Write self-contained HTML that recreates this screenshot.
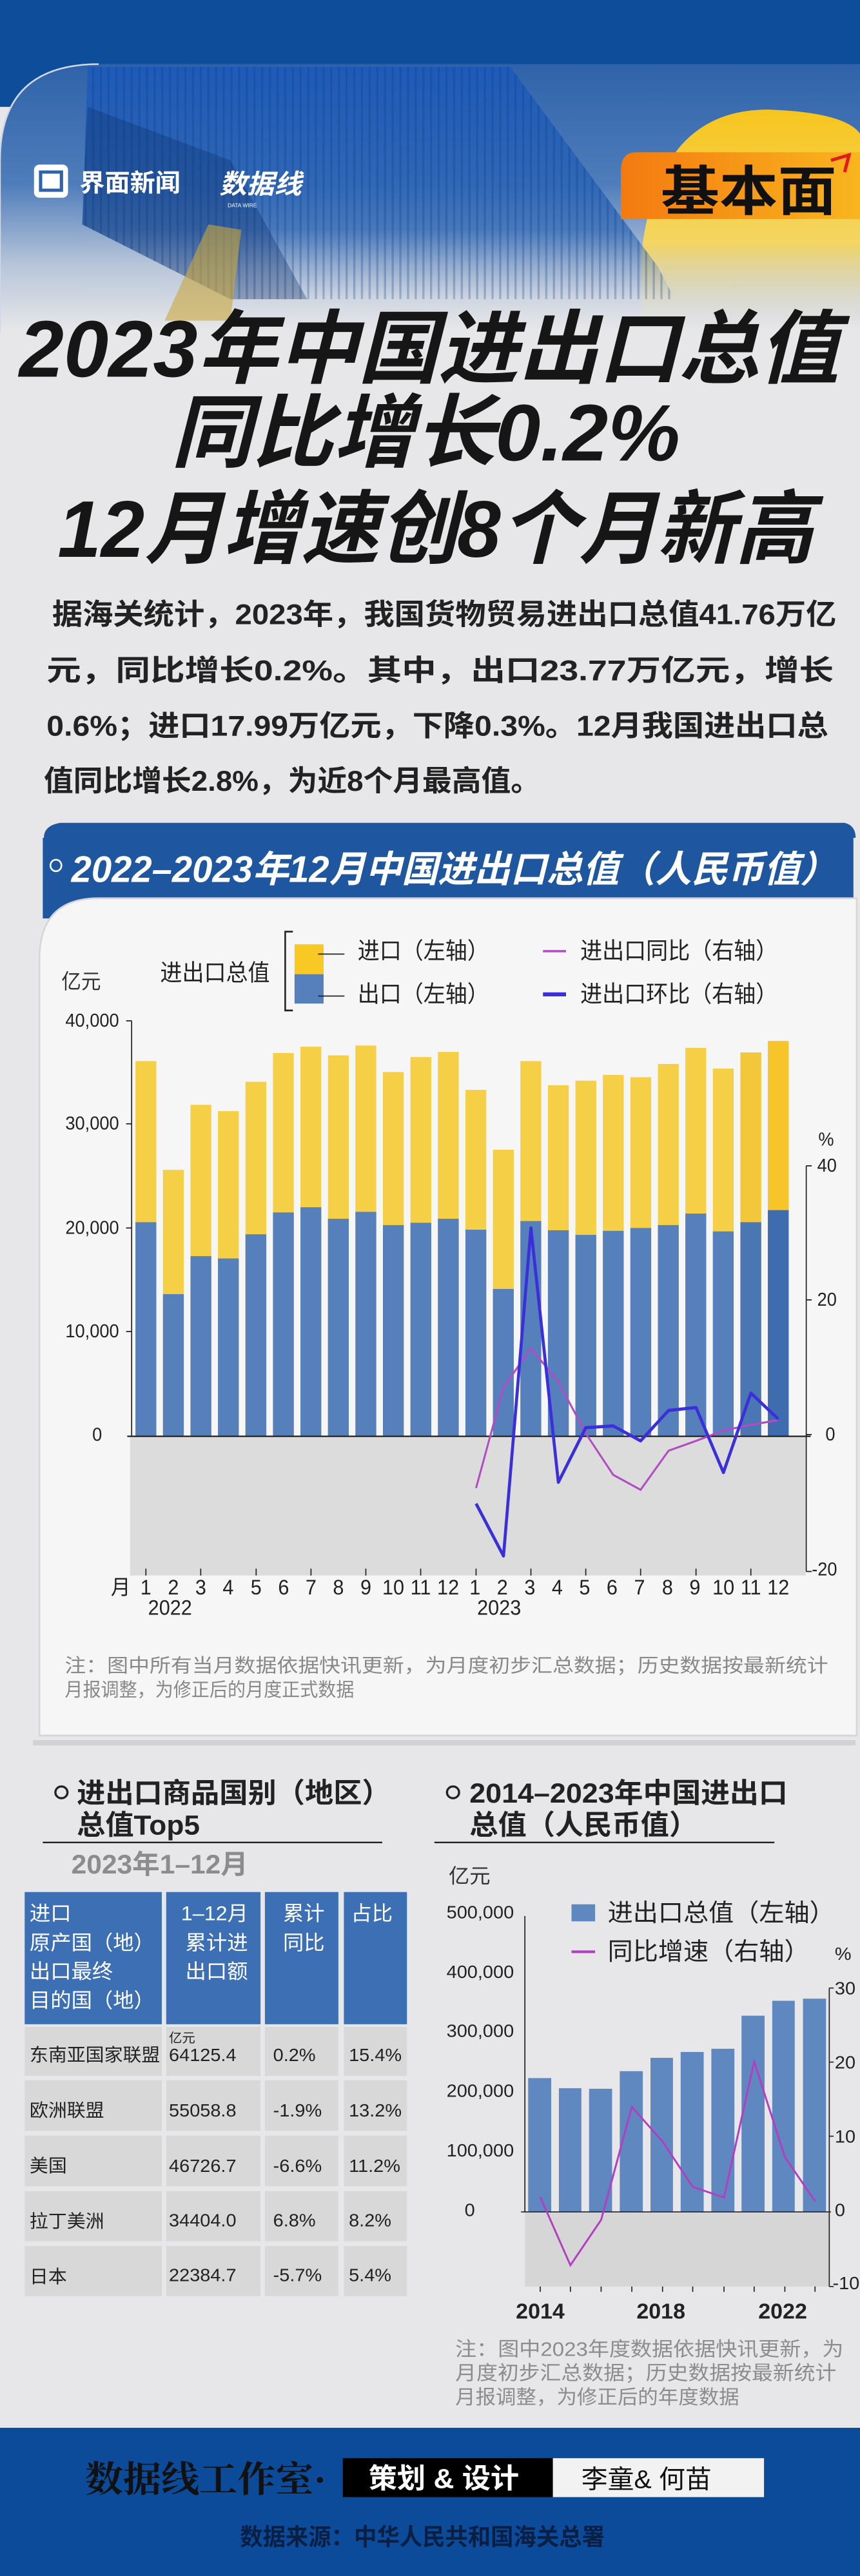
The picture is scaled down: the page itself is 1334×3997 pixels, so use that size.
<!DOCTYPE html>
<html><head><meta charset="utf-8"><style>
html,body{margin:0;padding:0;background:#e7e7e9;width:1334px;overflow:hidden}
svg{display:block}
text{font-family:"Liberation Sans","Noto Sans CJK SC",sans-serif}
</style></head><body>
<!-- Section 1: 0-1300 -->
<svg width="1334" height="1300" viewBox="0 0 1568 1568" preserveAspectRatio="none">
<defs>
<linearGradient id="hero" x1="0" y1="0" x2="0" y2="1">
<stop offset="0" stop-color="#2f63a9"/><stop offset="0.45" stop-color="#4f7dbb"/><stop offset="0.75" stop-color="#b7c5d9"/><stop offset="1" stop-color="#e7e7e9"/></linearGradient>
<linearGradient id="sun" x1="0" y1="0" x2="0" y2="1"><stop offset="0" stop-color="#f6c51e"/><stop offset="0.6" stop-color="#f4d560"/><stop offset="1" stop-color="#e7e4d8" stop-opacity="0"/></linearGradient>
<linearGradient id="org" x1="0" y1="0" x2="1" y2="0"><stop offset="0" stop-color="#f47a10"/><stop offset="1" stop-color="#f9b51e"/></linearGradient>
<linearGradient id="cont" x1="0" y1="0" x2="0" y2="1"><stop offset="0" stop-color="#1e5bb8"/><stop offset="0.7" stop-color="#2c65b4" stop-opacity="0.7"/><stop offset="1" stop-color="#6d8fc0" stop-opacity="0"/></linearGradient>
<pattern id="rib" width="14" height="14" patternUnits="userSpaceOnUse"><rect width="14" height="14" fill="none"/><rect width="4" height="14" fill="#0d3a82" opacity="0.45"/></pattern>
</defs>
<rect x="0" y="0" width="1568" height="1568" fill="#e7e7e9"/>
<rect x="0" y="0" width="1568" height="200" fill="#0e4d9a"/>
<path d="M0 300 Q0 120 180 120 L1568 120 L1568 620 L0 620 Z" fill="url(#hero)"/>
<path d="M0 620 L0 300 Q0 120 180 120" fill="none" stroke="#cfd8e6" stroke-width="3"/>
<path d="M1170 560 L1170 470 Q1200 205 1400 205 Q1540 210 1568 250 L1568 620 L1170 620 Z" fill="url(#sun)"/>
<!-- container -->
<path d="M160 125 L930 125 L1200 500 L1230 560 L420 560 L150 420 Z" fill="url(#cont)"/>
<path d="M160 125 L930 125 L1200 500 L1230 560 L420 560 L150 420 Z" fill="url(#rib)" opacity="0.6"/>
<path d="M160 200 L420 300 L560 560 L420 560 L150 420 Z" fill="#0c2f6a" opacity="0.35"/>
<path d="M300 600 L380 420 L440 430 L420 600 Z" fill="#c9a63c" opacity="0.6"/>
<!-- logos -->
<rect x="62" y="308" width="62" height="62" rx="10" fill="#ffffff"/>
<rect x="74" y="322" width="38" height="34" fill="none" stroke="#2f63a9" stroke-width="6"/>
<text x="145" y="358" font-size="46" font-weight="bold" fill="#ffffff">界面新闻</text>
<text x="400" y="362" font-size="50" font-weight="bold" font-style="italic" fill="#ffffff">数据线</text>
<text x="415" y="388" font-size="10" fill="#ffffff">DATA WIRE</text>
<!-- badge -->
<path d="M1160 285 L1568 285 L1568 410 L1132 410 L1132 320 Q1132 285 1160 285 Z" fill="url(#org)"/>
<text x="1205" y="393" font-size="100" font-weight="bold" fill="#111" textLength="320" lengthAdjust="spacingAndGlyphs">基本面</text>
<path d="M1515 300 L1548 290 L1540 322" fill="none" stroke="#e21b1b" stroke-width="6"/>
<!-- title -->
<g font-weight="bold" font-style="italic" fill="#161616" font-size="150">
<text x="35" y="705" textLength="1495" lengthAdjust="spacingAndGlyphs">2023年中国进出口总值</text>
<text x="312" y="862" textLength="928" lengthAdjust="spacingAndGlyphs">同比增长0.2%</text>
<text x="105" y="1042" textLength="1378" lengthAdjust="spacingAndGlyphs">12月增速创8个月新高</text>
</g>
<g font-size="54" fill="#222" font-weight="bold">
<text x="95" y="1168" textLength="1430" lengthAdjust="spacingAndGlyphs">据海关统计，2023年，我国货物贸易进出口总值41.76万亿</text>
<text x="85" y="1273" textLength="1435" lengthAdjust="spacingAndGlyphs">元，同比增长0.2%。其中，出口23.77万亿元，增长</text>
<text x="85" y="1377" textLength="1425" lengthAdjust="spacingAndGlyphs">0.6%；进口17.99万亿元，下降0.3%。12月我国进出口总</text>
<text x="80" y="1480" textLength="905" lengthAdjust="spacingAndGlyphs">值同比增长2.8%，为近8个月最高值。</text>
</g>
<path d="M80 1568 Q80 1545 110 1540 L1540 1540 Q1560 1545 1560 1568 Z" fill="#1f56a0"/>
</svg>
<!-- Section 2: 1300-2700 -->
<svg width="1334" height="1400" viewBox="0 0 1568 1568" preserveAspectRatio="none">
<rect x="0" y="0" width="1568" height="1568" fill="#e7e7e9"/>
<path d="M78 0 L1556 0 L1556 140 L78 140 Z" fill="#1f56a0"/>
<path d="M72 1560 L72 210 Q72 105 180 105 L1562 105 L1562 1560 Z" fill="#f6f6f7" stroke="#d6d6d8" stroke-width="3"/>
<circle cx="102" cy="48" r="10" fill="none" stroke="#fff" stroke-width="3"/>
<text x="130" y="77" font-size="64" font-weight="bold" font-style="italic" fill="#fff" textLength="1395" lengthAdjust="spacingAndGlyphs">2022–2023年12月中国进出口总值（人民币值）</text>
<!-- legend -->
<text x="112" y="262" font-size="36" fill="#333">亿元</text>
<text x="292" y="248" font-size="40" fill="#222">进出口总值</text>
<path d="M534 163 L520 163 L520 300 L534 300" fill="none" stroke="#222" stroke-width="3"/>
<rect x="537" y="185" width="53" height="52" fill="#f8c824"/>
<rect x="537" y="237" width="53" height="51" fill="#5580bb"/>
<line x1="580" y1="202" x2="628" y2="202" stroke="#222" stroke-width="2"/>
<line x1="580" y1="275" x2="628" y2="275" stroke="#222" stroke-width="2"/>
<text x="652" y="210" font-size="40" fill="#222">进口（左轴）</text>
<text x="652" y="285" font-size="40" fill="#222">出口（左轴）</text>
<line x1="990" y1="197" x2="1032" y2="197" stroke="#b24cc4" stroke-width="4"/>
<line x1="990" y1="272" x2="1032" y2="272" stroke="#3a2fd8" stroke-width="7"/>
<text x="1058" y="210" font-size="40" fill="#222">进出口同比（右轴）</text>
<text x="1058" y="285" font-size="40" fill="#222">进出口环比（右轴）</text>
<rect x="237" y="1040" width="1232" height="242" fill="#dcdcdc"/>
<g font-size="32" fill="#222" text-anchor="end">
<text x="217" y="328">40,000</text><text x="217" y="507">30,000</text><text x="217" y="688">20,000</text><text x="217" y="868">10,000</text><text x="186" y="1048">0</text>
</g>
<g stroke="#222" stroke-width="2">
<line x1="240" y1="318" x2="240" y2="1040"/>
<line x1="230" y1="318" x2="240" y2="318"/><line x1="230" y1="497" x2="240" y2="497"/><line x1="230" y1="678" x2="240" y2="678"/><line x1="230" y1="858" x2="240" y2="858"/>
</g>
<g fill="#f5cf45">
<rect x="247" y="388" width="38" height="652"/><rect x="297.1" y="577" width="38" height="463"/><rect x="347.3" y="464" width="38" height="576"/><rect x="397.4" y="475" width="38" height="565"/><rect x="447.5" y="424" width="38" height="616"/><rect x="497.7" y="374" width="38" height="666"/><rect x="547.8" y="363" width="38" height="677"/><rect x="597.9" y="378" width="38" height="662"/><rect x="648" y="361" width="38" height="679"/><rect x="698.2" y="407" width="38" height="633"/><rect x="748.3" y="381" width="38" height="659"/><rect x="798.4" y="372" width="38" height="668"/><rect x="848.6" y="438" width="38" height="602"/><rect x="898.7" y="542" width="38" height="498"/><rect x="948.8" y="388" width="38" height="652"/><rect x="999" y="430" width="38" height="610"/><rect x="1049.1" y="422" width="38" height="618"/><rect x="1099.2" y="412" width="38" height="628"/><rect x="1149.3" y="416" width="38" height="624"/><rect x="1199.5" y="393" width="38" height="647"/><rect x="1249.6" y="365" width="38" height="675"/><rect x="1299.7" y="401" width="38" height="639"/><rect x="1349.9" y="373" width="38" height="667" fill="#f2c73a"/><rect x="1400" y="353" width="38" height="687" fill="#f7c52a"/>
</g>
<g fill="#5580bb">
<rect x="247" y="668" width="38" height="372"/><rect x="297.1" y="793" width="38" height="247"/><rect x="347.3" y="727" width="38" height="313"/><rect x="397.4" y="731" width="38" height="309"/><rect x="447.5" y="689" width="38" height="351"/><rect x="497.7" y="651" width="38" height="389"/><rect x="547.8" y="642" width="38" height="398"/><rect x="597.9" y="662" width="38" height="378"/><rect x="648" y="650" width="38" height="390"/><rect x="698.2" y="673" width="38" height="367"/><rect x="748.3" y="669" width="38" height="371"/><rect x="798.4" y="662" width="38" height="378"/><rect x="848.6" y="681" width="38" height="359"/><rect x="898.7" y="784" width="38" height="256"/><rect x="948.8" y="666" width="38" height="374"/><rect x="999" y="682" width="38" height="358"/><rect x="1049.1" y="690" width="38" height="350"/><rect x="1099.2" y="683" width="38" height="357"/><rect x="1149.3" y="678" width="38" height="362"/><rect x="1199.5" y="673" width="38" height="367"/><rect x="1249.6" y="653" width="38" height="387"/><rect x="1299.7" y="684" width="38" height="356"/><rect x="1349.9" y="668" width="38" height="372" fill="#4a76b3"/><rect x="1400" y="647" width="38" height="393" fill="#3e6cae"/>
</g>
<line x1="232" y1="1040" x2="1478" y2="1040" stroke="#222" stroke-width="2.5"/>
<polyline points="868,1130 918,955 968,887 1018,945 1068,1035 1118,1107 1168,1133 1219,1065 1269,1048 1319,1030 1369,1020 1419,1012" fill="none" stroke="#b24cc4" stroke-width="3.5"/>
<polyline points="868,1157 918,1248 968,678 1018,1120 1068,1025 1118,1022 1168,1048 1219,995 1269,990 1319,1103 1369,965 1419,1010" fill="none" stroke="#3a2fd8" stroke-width="5.5" stroke-linejoin="round"/>
<g stroke="#222" stroke-width="2">
<line x1="1470" y1="570" x2="1470" y2="1275"/>
<line x1="1470" y1="570" x2="1480" y2="570"/><line x1="1470" y1="803" x2="1480" y2="803"/><line x1="1470" y1="1037" x2="1480" y2="1037"/><line x1="1470" y1="1275" x2="1480" y2="1275"/>
</g>
<g font-size="32" fill="#222">
<text x="1492" y="535">%</text><text x="1490" y="580">40</text><text x="1490" y="813">20</text><text x="1505" y="1047">0</text><text x="1480" y="1282">-20</text>
</g>
<g font-size="36" fill="#222" text-anchor="middle">
<text x="220" y="1315">月</text>
<text x="266" y="1315">1</text><text x="316" y="1315">2</text><text x="366" y="1315">3</text><text x="416" y="1315">4</text><text x="467" y="1315">5</text><text x="517" y="1315">6</text><text x="567" y="1315">7</text><text x="617" y="1315">8</text><text x="667" y="1315">9</text><text x="717" y="1315">10</text><text x="767" y="1315">11</text><text x="817" y="1315">12</text>
<text x="866" y="1315">1</text><text x="916" y="1315">2</text><text x="966" y="1315">3</text><text x="1016" y="1315">4</text><text x="1066" y="1315">5</text><text x="1116" y="1315">6</text><text x="1166" y="1315">7</text><text x="1217" y="1315">8</text><text x="1267" y="1315">9</text><text x="1319" y="1315">10</text><text x="1369" y="1315">11</text><text x="1419" y="1315">12</text>
<text x="310" y="1350">2022</text><text x="910" y="1350">2023</text>
</g>
<g stroke="#222" stroke-width="2">
<line x1="266" y1="1270" x2="266" y2="1282"/><line x1="366" y1="1270" x2="366" y2="1282"/><line x1="467" y1="1270" x2="467" y2="1282"/><line x1="567" y1="1270" x2="567" y2="1282"/><line x1="667" y1="1270" x2="667" y2="1282"/><line x1="767" y1="1270" x2="767" y2="1282"/><line x1="868" y1="1270" x2="868" y2="1282"/><line x1="968" y1="1270" x2="968" y2="1282"/><line x1="1068" y1="1270" x2="1068" y2="1282"/><line x1="1168" y1="1270" x2="1168" y2="1282"/><line x1="1269" y1="1270" x2="1269" y2="1282"/><line x1="1369" y1="1270" x2="1369" y2="1282"/>
</g>
<g font-size="33" fill="#888">
<text x="118" y="1450" textLength="1392" lengthAdjust="spacingAndGlyphs">注：图中所有当月数据依据快讯更新，为月度初步汇总数据；历史数据按最新统计</text>
<text x="118" y="1492">月报调整，为修正后的月度正式数据</text>
</g>
</svg>
<!-- Section 3: 2700-3997 -->
<svg width="1334" height="1297" viewBox="0 0 1568 1568" preserveAspectRatio="none">
<rect x="0" y="0" width="1568" height="1568" fill="#e7e7e9"/>
<rect x="60" y="0" width="1500" height="10" fill="#d2d2d4"/>
<g font-size="52" font-weight="bold" fill="#222">
<circle cx="112" cy="98" r="11" fill="none" stroke="#222" stroke-width="4"/>
<text x="140" y="117">进出口商品国别（地区）</text>
<text x="140" y="177">总值Top5</text>
<circle cx="826" cy="98" r="11" fill="none" stroke="#222" stroke-width="4"/>
<text x="856" y="117" textLength="580" lengthAdjust="spacingAndGlyphs">2014–2023年中国进出口</text>
<text x="856" y="177">总值（人民币值）</text>
</g>
<line x1="78" y1="192" x2="697" y2="192" stroke="#222" stroke-width="3"/>
<line x1="792" y1="192" x2="1412" y2="192" stroke="#222" stroke-width="3"/>
<text x="130" y="250" font-size="50" font-weight="bold" fill="#8c8c8c">2023年1–12月</text>
<g fill="#3d6fb4">
<rect x="45" y="285" width="250" height="248"/><rect x="303" y="285" width="172" height="248"/><rect x="483" y="285" width="134" height="248"/><rect x="627" y="285" width="115" height="248"/>
</g>
<g fill="#d8d8d8">
<rect x="45" y="538" width="250" height="92"/><rect x="303" y="538" width="172" height="92"/><rect x="483" y="538" width="134" height="92"/><rect x="627" y="538" width="115" height="92"/>
<rect x="45" y="638" width="250" height="95"/><rect x="303" y="638" width="172" height="95"/><rect x="483" y="638" width="134" height="95"/><rect x="627" y="638" width="115" height="95"/>
<rect x="45" y="742" width="250" height="95"/><rect x="303" y="742" width="172" height="95"/><rect x="483" y="742" width="134" height="95"/><rect x="627" y="742" width="115" height="95"/>
<rect x="45" y="846" width="250" height="94"/><rect x="303" y="846" width="172" height="94"/><rect x="483" y="846" width="134" height="94"/><rect x="627" y="846" width="115" height="94"/>
<rect x="45" y="949" width="250" height="94"/><rect x="303" y="949" width="172" height="94"/><rect x="483" y="949" width="134" height="94"/><rect x="627" y="949" width="115" height="94"/>
</g>
<g font-size="38" fill="#fff">
<text x="54" y="338">进口</text><text x="54" y="393">原产国（地）</text><text x="54" y="447">出口最终</text><text x="54" y="501">目的国（地）</text>
<text x="330" y="338">1–12月</text><text x="338" y="393">累计进</text><text x="338" y="447">出口额</text>
<text x="516" y="338">累计</text><text x="516" y="393">同比</text>
<text x="640" y="338">占比</text>
</g>
<g font-size="34" fill="#222">
<text x="308" y="567" font-size="24">亿元</text>
<text x="54" y="602">东南亚国家联盟</text><text x="308" y="602">64125.4</text><text x="498" y="602">0.2%</text><text x="636" y="602">15.4%</text>
<text x="54" y="706">欧洲联盟</text><text x="308" y="706">55058.8</text><text x="498" y="706">-1.9%</text><text x="636" y="706">13.2%</text>
<text x="54" y="810">美国</text><text x="308" y="810">46726.7</text><text x="498" y="810">-6.6%</text><text x="636" y="810">11.2%</text>
<text x="54" y="914">拉丁美洲</text><text x="308" y="912">34404.0</text><text x="498" y="912">6.8%</text><text x="636" y="912">8.2%</text>
<text x="54" y="1018">日本</text><text x="308" y="1015">22384.7</text><text x="498" y="1015">-5.7%</text><text x="636" y="1015">5.4%</text>
</g>
<text x="818" y="268" font-size="38" fill="#333">亿元</text>
<g font-size="34" fill="#222" text-anchor="end">
<text x="937" y="334">500,000</text><text x="937" y="446">400,000</text><text x="937" y="557">300,000</text><text x="937" y="669">200,000</text><text x="937" y="781">100,000</text><text x="866" y="893">0</text>
</g>
<rect x="957" y="885" width="555" height="140" fill="#d6d6d6"/>
<g fill="#5f87c0">
<rect x="963" y="634" width="42" height="251"/><rect x="1019" y="653" width="41" height="232"/><rect x="1074" y="654" width="42" height="231"/><rect x="1130" y="621" width="42" height="264"/><rect x="1186" y="596" width="41" height="289"/><rect x="1241" y="585" width="42" height="300"/><rect x="1297" y="579" width="42" height="306"/><rect x="1352" y="517" width="42" height="368"/><rect x="1408" y="489" width="41" height="396"/><rect x="1464" y="485" width="42" height="400"/>
</g>
<g stroke="#222" stroke-width="2">
<line x1="957" y1="330" x2="957" y2="885"/>
<line x1="950" y1="885" x2="1515" y2="885"/>
<line x1="1512" y1="465" x2="1512" y2="1025"/>
<line x1="1512" y1="465" x2="1520" y2="465"/><line x1="1512" y1="604" x2="1520" y2="604"/><line x1="1512" y1="743" x2="1520" y2="743"/><line x1="1512" y1="1025" x2="1520" y2="1025"/>
<line x1="985" y1="1025" x2="985" y2="1035"/><line x1="1040" y1="1025" x2="1040" y2="1035"/><line x1="1096" y1="1025" x2="1096" y2="1035"/><line x1="1152" y1="1025" x2="1152" y2="1035"/><line x1="1208" y1="1025" x2="1208" y2="1035"/><line x1="1263" y1="1025" x2="1263" y2="1035"/><line x1="1320" y1="1025" x2="1320" y2="1035"/><line x1="1375" y1="1025" x2="1375" y2="1035"/><line x1="1431" y1="1025" x2="1431" y2="1035"/><line x1="1486" y1="1025" x2="1486" y2="1035"/>
</g>
<polyline points="985,857 1040,985 1096,900 1152,688 1208,753 1263,838 1320,858 1375,603 1431,782 1486,865" fill="none" stroke="#b040c0" stroke-width="3.5"/>
<g font-size="34" fill="#222">
<text x="1522" y="412">%</text><text x="1522" y="477">30</text><text x="1522" y="616">20</text><text x="1522" y="755">10</text><text x="1522" y="893">0</text><text x="1518" y="1030">-10</text>
</g>
<g font-size="40" fill="#222" text-anchor="middle" font-weight="bold">
<text x="985" y="1085">2014</text><text x="1205" y="1085">2018</text><text x="1427" y="1085">2022</text>
</g>
<rect x="1042" y="308" width="43" height="32" fill="#5f87c0"/>
<line x1="1042" y1="397" x2="1085" y2="397" stroke="#b040c0" stroke-width="5"/>
<text x="1108" y="340" font-size="46" fill="#222">进出口总值（左轴）</text>
<text x="1108" y="412" font-size="46" fill="#222">同比增速（右轴）</text>
<g font-size="37" fill="#8c8c8c">
<text x="830" y="1155" textLength="708" lengthAdjust="spacingAndGlyphs">注：图中2023年度数据依据快讯更新，为</text>
<text x="830" y="1200" textLength="695" lengthAdjust="spacingAndGlyphs">月度初步汇总数据；历史数据按最新统计</text>
<text x="830" y="1245">月报调整，为修正后的年度数据</text>
</g>
<rect x="0" y="1290" width="1568" height="278" fill="#0b4b99"/>
<text x="155" y="1410" font-size="68" font-weight="bold" fill="#111" style="font-family:'Liberation Serif','Noto Serif CJK SC',serif" textLength="440" lengthAdjust="spacingAndGlyphs">数据线工作室·</text>
<rect x="625" y="1347" width="383" height="73" fill="#000"/>
<rect x="1008" y="1347" width="385" height="73" fill="#f2f2f2"/>
<text x="672" y="1403" font-size="52" font-weight="bold" fill="#fff">策划 &amp; 设计</text>
<text x="1060" y="1403" font-size="48" fill="#111">李童&amp; 何苗</text>
<text x="770" y="1510" font-size="44" font-weight="bold" fill="#0a1f44" text-anchor="middle" textLength="665" lengthAdjust="spacingAndGlyphs">数据来源：中华人民共和国海关总署</text>
</svg>
</body></html>
